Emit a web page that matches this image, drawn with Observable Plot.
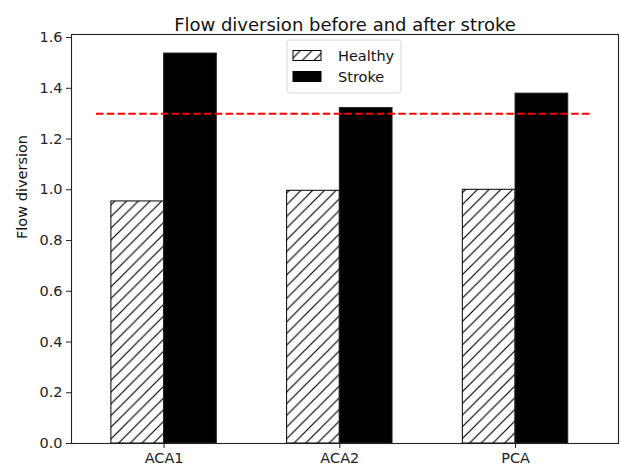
<!DOCTYPE html>
<html>
<head>
<meta charset="utf-8">
<script src="https://cdn.jsdelivr.net/npm/d3@7"></script>
<script src="https://cdn.jsdelivr.net/npm/@observablehq/plot@0.6"></script>
<style>
  html, body { margin: 0; padding: 0; background: white; }
</style>
</head>
<body>
<div id="chart"></div>
<script>
// ---- data ----
const regions = ["ACA1", "ACA2", "PCA"];
const healthy = [0.954, 0.996, 1.0];
const stroke = [1.537, 1.322, 1.379];
const threshold = 1.3;
const thresholdSpan = [-0.385, 2.44];
const yTicks = [0, 0.2, 0.4, 0.6, 0.8, 1.0, 1.2, 1.4, 1.6];
const seriesNames = ["Healthy", "Stroke"];
const title = "Flow diversion before and after stroke";
const yLabel = "Flow diversion";

// ---- build tables ----
const barWidth = 0.3;
const bars = [];
regions.forEach((r, i) => {
  bars.push({region: r, series: "Healthy", x1: i - barWidth, x2: i, value: healthy[i]});
  bars.push({region: r, series: "Stroke", x1: i, x2: i + barWidth, value: stroke[i]});
});
const thresholdRows = [{x1: thresholdSpan[0], x2: thresholdSpan[1], y: threshold}];

const font = "DejaVu Sans, sans-serif";

const chart = Plot.plot({
  width: 621,
  height: 467,
  marginLeft: 71,
  marginRight: 3,
  marginTop: 34,
  marginBottom: 24,
  style: {fontFamily: font, fontSize: "14.5px", background: "white", color: "black"},
  x: {type: "linear", domain: [-0.527, 2.586]},
  y: {domain: [0, 1.612]},
  marks: [
    Plot.rect(bars.filter(d => d.series === "Healthy"), {
      x1: "x1", x2: "x2", y1: 0, y2: "value",
      fill: "url(#hatch)", stroke: "black", strokeWidth: 1
    }),
    Plot.rect(bars.filter(d => d.series === "Stroke"), {
      x1: "x1", x2: "x2", y1: 0, y2: "value",
      fill: "black", stroke: "#222", strokeWidth: 1
    }),
    Plot.ruleY(thresholdRows, {
      y: "y", x1: "x1", x2: "x2",
      stroke: "red", strokeWidth: 2, strokeDasharray: "7.5,3.3"
    }),
    Plot.frame({stroke: "#222", strokeWidth: 1.1}),
    Plot.axisY({
      ticks: yTicks, tickFormat: d3.format(".1f"),
      tickSize: 5, tickPadding: 4, label: null, stroke: "#222", fill: "#222"
    }),
    Plot.axisX({
      ticks: [0, 1, 2], tickFormat: i => regions[i],
      tickSize: 5, tickPadding: 4, label: null, stroke: "#222", fill: "#222"
    }),
    Plot.text([yLabel], {
      text: d => d, frameAnchor: "left", rotate: -90, dx: -49.5,
      fontSize: 14.5, fill: "#111"
    }),
    Plot.text([title], {
      text: d => d, frameAnchor: "top", dy: -16,
      fontSize: 18, fill: "#111"
    })
  ]
});

// hatch pattern + legend (layout drawing, added to Plot's svg)
const svg = d3.select(chart);
const s = 11.7;
const defs = svg.insert("defs", ":first-child");
const pat = defs.append("pattern")
  .attr("id", "hatch")
  .attr("patternUnits", "userSpaceOnUse")
  .attr("width", s).attr("height", s);
pat.append("rect").attr("width", s).attr("height", s).attr("fill", "white");
pat.append("path")
  .attr("d", `M0,${s} L${s},0 M${-s/4},${s/4} L${s/4},${-s/4} M${3*s/4},${5*s/4} L${5*s/4},${3*s/4}`)
  .attr("stroke", "black").attr("stroke-width", 1.2);

const lg = svg.append("g")
  .attr("font-family", font).attr("font-size", "14.5px")
  .attr("text-anchor", "start");
lg.append("rect")
  .attr("x", 287).attr("y", 40).attr("width", 114).attr("height", 53)
  .attr("rx", 3).attr("fill", "white").attr("fill-opacity", 0.85)
  .attr("stroke", "#d8d8d8").attr("stroke-width", 1);
const legendFills = ["url(#hatch)", "black"];
seriesNames.forEach((name, i) => {
  const cy = 55.5 + i * 21;
  lg.append("rect")
    .attr("x", 293).attr("y", cy - 5).attr("width", 28).attr("height", 10)
    .attr("fill", legendFills[i]).attr("stroke", "black").attr("stroke-width", 1);
  lg.append("text")
    .attr("x", 338).attr("y", cy).attr("dy", "0.35em")
    .attr("text-anchor", "start")
    .attr("fill", "#111").text(name);
});

document.getElementById("chart").appendChild(chart);
</script>
</body>
</html>
